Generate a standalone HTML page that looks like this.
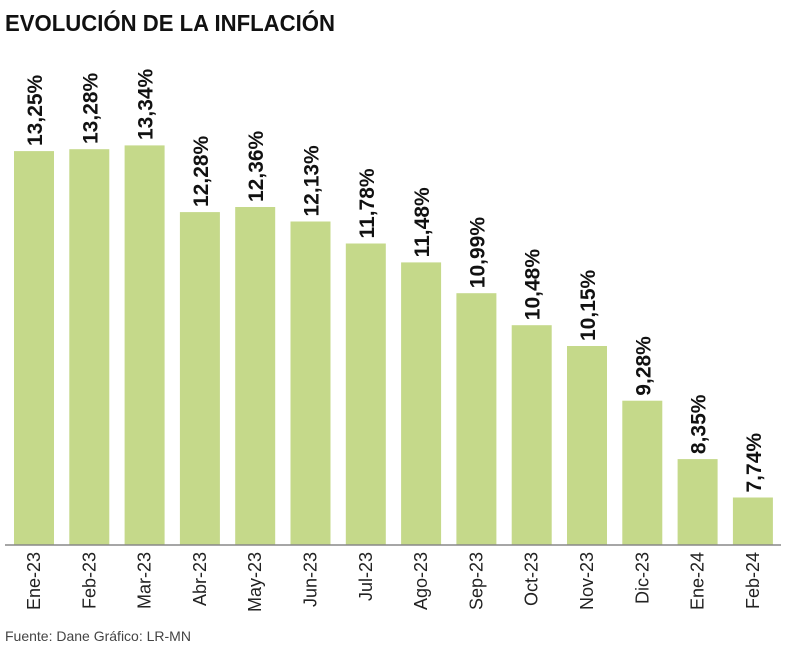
<!DOCTYPE html><html><head><meta charset="utf-8"><style>body{margin:0;background:#fff}svg{display:block}</style></head><body>
<svg width="786" height="647" xmlns="http://www.w3.org/2000/svg" font-family="Liberation Sans, sans-serif">
<text x="5" y="31" font-size="23" font-weight="bold" fill="#111" textLength="330" lengthAdjust="spacingAndGlyphs">EVOLUCIÓN DE LA INFLACIÓN</text>
<g fill="#c5d98a">
<rect x="14" y="151.1" width="40" height="393.9"/>
<rect x="69.3" y="149.2" width="40" height="395.8"/>
<rect x="124.6" y="145.4" width="40" height="399.6"/>
<rect x="179.9" y="212.1" width="40" height="332.9"/>
<rect x="235.2" y="207" width="40" height="338"/>
<rect x="290.5" y="221.5" width="40" height="323.5"/>
<rect x="345.8" y="243.5" width="40" height="301.5"/>
<rect x="401.1" y="262.4" width="40" height="282.6"/>
<rect x="456.4" y="293.2" width="40" height="251.8"/>
<rect x="511.7" y="325.2" width="40" height="219.8"/>
<rect x="567" y="346" width="40" height="199"/>
<rect x="622.3" y="400.7" width="40" height="144.3"/>
<rect x="677.6" y="459.1" width="40" height="85.9"/>
<rect x="732.9" y="497.5" width="40" height="47.5"/>
</g>
<line x1="5" y1="545" x2="781" y2="545" stroke="#888" stroke-width="1.5"/>
<g font-size="21" font-weight="bold" fill="#111">
<text transform="translate(42,146) rotate(-90)">13,25%</text>
<text transform="translate(97.3,144) rotate(-90)">13,28%</text>
<text transform="translate(152.6,140) rotate(-90)">13,34%</text>
<text transform="translate(207.9,207) rotate(-90)">12,28%</text>
<text transform="translate(263.2,202) rotate(-90)">12,36%</text>
<text transform="translate(318.5,216.5) rotate(-90)">12,13%</text>
<text transform="translate(373.8,238.5) rotate(-90)">11,78%</text>
<text transform="translate(429.1,257.4) rotate(-90)">11,48%</text>
<text transform="translate(484.4,288.2) rotate(-90)">10,99%</text>
<text transform="translate(539.7,320.2) rotate(-90)">10,48%</text>
<text transform="translate(595,341) rotate(-90)">10,15%</text>
<text transform="translate(650.3,395.7) rotate(-90)">9,28%</text>
<text transform="translate(705.6,454.1) rotate(-90)">8,35%</text>
<text transform="translate(760.9,492.5) rotate(-90)">7,74%</text>
</g>
<g font-size="18" fill="#222" text-anchor="end">
<text transform="translate(40,552) rotate(-90)">Ene-23</text>
<text transform="translate(95.3,552) rotate(-90)">Feb-23</text>
<text transform="translate(150.6,552) rotate(-90)">Mar-23</text>
<text transform="translate(205.9,552) rotate(-90)">Abr-23</text>
<text transform="translate(261.2,552) rotate(-90)">May-23</text>
<text transform="translate(316.5,552) rotate(-90)">Jun-23</text>
<text transform="translate(371.8,552) rotate(-90)">Jul-23</text>
<text transform="translate(427.1,552) rotate(-90)">Ago-23</text>
<text transform="translate(482.4,552) rotate(-90)">Sep-23</text>
<text transform="translate(537.7,552) rotate(-90)">Oct-23</text>
<text transform="translate(593,552) rotate(-90)">Nov-23</text>
<text transform="translate(648.3,552) rotate(-90)">Dic-23</text>
<text transform="translate(703.6,552) rotate(-90)">Ene-24</text>
<text transform="translate(758.9,552) rotate(-90)">Feb-24</text>
</g>
<text x="5" y="641" font-size="14" fill="#444">Fuente: Dane  Gráfico: LR-MN</text>
</svg></body></html>
